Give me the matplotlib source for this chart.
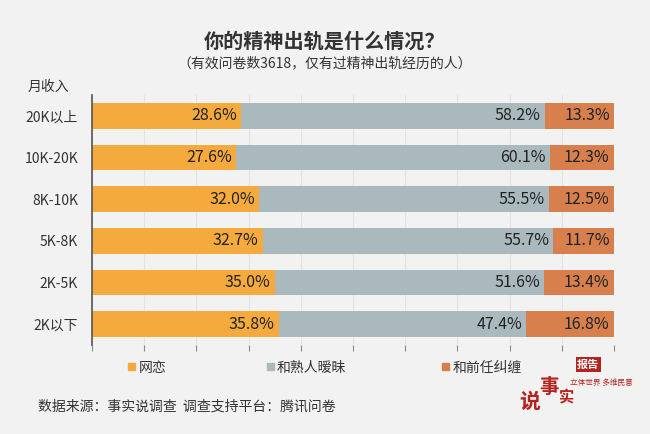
import matplotlib.pyplot as plt
import numpy as np

plt.rcParams['font.family'] = ['Noto Sans CJK SC', 'DejaVu Sans']

categories = ['20K以上', '10K-20K', '8K-10K', '5K-8K', '2K-5K', '2K以下']
online = [28.6, 27.6, 32.0, 32.7, 35.0, 35.8]
acquaint = [58.2, 60.1, 55.5, 55.7, 51.6, 47.4]
ex = [13.3, 12.3, 12.5, 11.7, 13.4, 16.8]
series_names = ['网恋', '和熟人暧昧', '和前任纠缠']
colors = ['#F4AA3C', '#A9B9BD', '#D7804E']

fig = plt.figure(figsize=(6.5, 4.34), dpi=100, facecolor='#F2F2F2')
ax = fig.add_axes([0.1415, 0.205, 0.803, 0.576])
ax.set_facecolor('#F2F2F2')

y = np.arange(len(categories))
left = np.zeros(len(categories))
for vals, c in zip([online, acquaint, ex], colors):
    vals = np.array(vals)
    ax.barh(y, vals, left=left, height=0.62, color=c, zorder=2)
    for yi, l, v in zip(y, left, vals):
        ax.text(l + v - 0.8, yi, f'{v:.1f}%', ha='right', va='center',
                fontsize=11.5, color='#222222', zorder=3)
    left = left + vals

ax.set_xlim(0, 100)
ax.set_ylim(5.5, -0.5)
ax.set_xticks(np.arange(0, 101, 10))
ax.set_xticklabels([])
ax.tick_params(axis='x', length=4, color='#888888')
ax.grid(axis='x', color='#E2E2E2', lw=0.8, zorder=0)
ax.set_yticks(y)
ax.set_yticklabels(categories, fontsize=10, color='#333333')
ax.tick_params(axis='y', length=0, pad=10)
for s in ['top', 'right', 'bottom']:
    ax.spines[s].set_visible(False)
ax.spines['left'].set_color('#555555')
ax.spines['left'].set_linewidth(1.2)

fig.text(0.5, 0.905, '你的精神出轨是什么情况？', ha='center', va='center',
         fontsize=14.5, fontweight='bold', color='#333333')
fig.text(0.5, 0.855, '（有效问卷数3618，仅有过精神出轨经历的人）', ha='center', va='center',
         fontsize=10, color='#333333')
fig.text(0.043, 0.80, '月收入', ha='left', va='center', fontsize=10, color='#333333')

leg_x = [0.205, 0.418, 0.688]
for lx, name, c in zip(leg_x, series_names, colors):
    fig.patches.append(plt.Rectangle((lx - 0.008, 0.147), 0.011, 0.017,
                                     transform=fig.transFigure, color=c))
    fig.text(lx + 0.008, 0.153, name, ha='left', va='center', fontsize=10, color='#333333')

fig.text(0.058, 0.063, '数据来源：事实说调查  调查支持平台：腾讯问卷', ha='left', va='center',
         fontsize=10, color='#333333')

# logo approximation
red = '#B5231F'
fig.text(0.815, 0.075, '说', fontsize=15, color=red, fontweight='bold', ha='center', va='center')
fig.text(0.845, 0.107, '事', fontsize=14, color=red, fontweight='bold', ha='center', va='center')
fig.text(0.872, 0.085, '实', fontsize=11, color=red, fontweight='bold', ha='center', va='center')
fig.text(0.905, 0.16, '报告', fontsize=8, color='white', fontweight='bold', ha='center', va='center',
         bbox=dict(facecolor=red, edgecolor='none', pad=1))
fig.text(0.925, 0.118, '立体世界 多维民意', fontsize=5.5, color=red, ha='center', va='center')

fig.savefig('out.png', dpi=100, facecolor=fig.get_facecolor())
